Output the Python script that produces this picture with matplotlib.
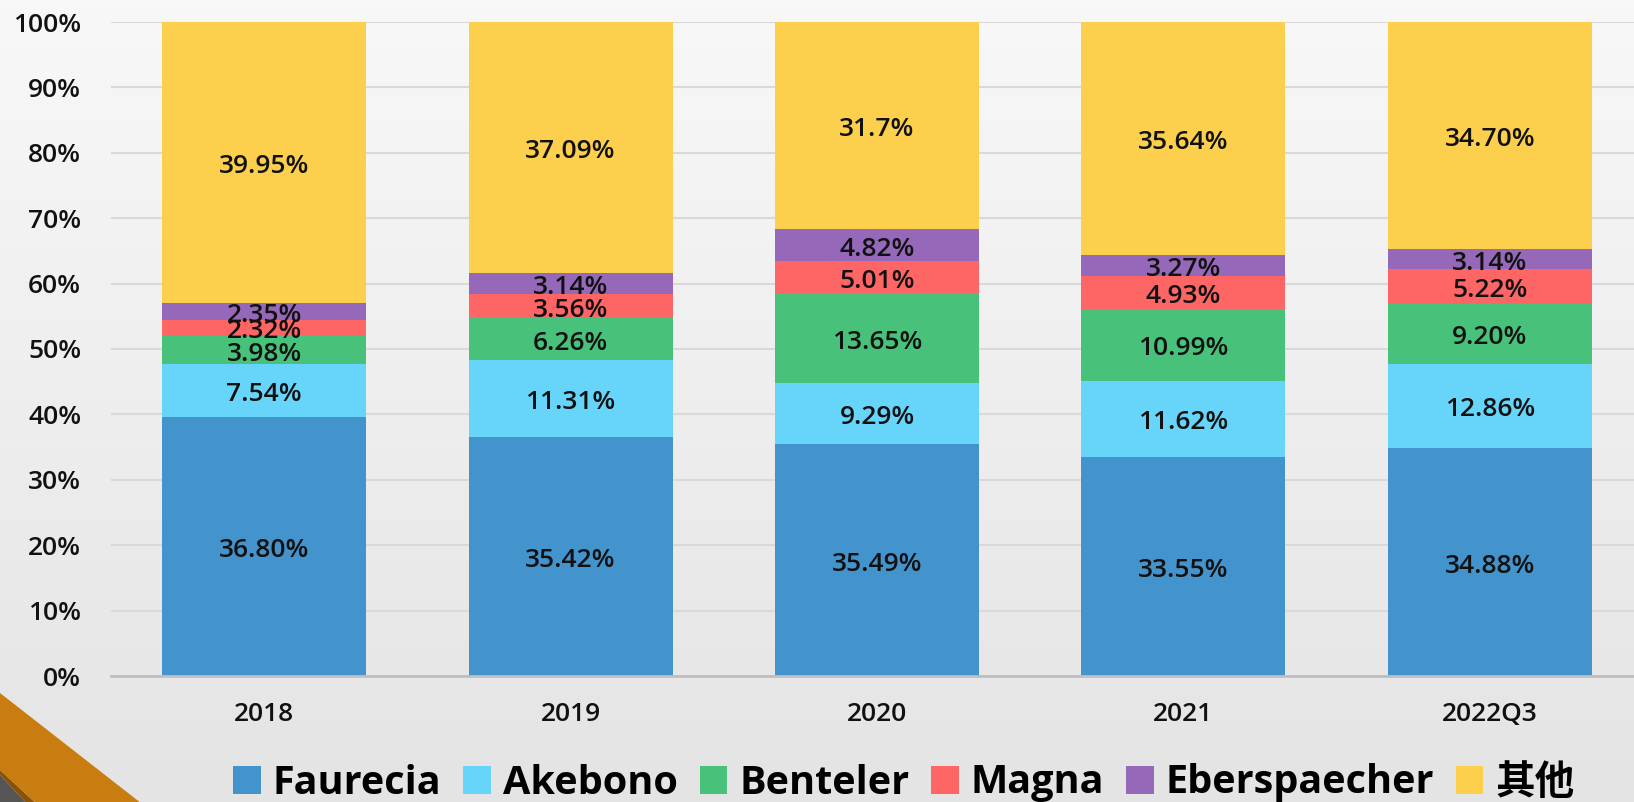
import numpy as np
import matplotlib
matplotlib.use("Agg")
import matplotlib.pyplot as plt
from matplotlib.patches import Polygon
from matplotlib.colors import LinearSegmentedColormap
from matplotlib.transforms import offset_copy

plt.rcParams['font.family'] = ['Open Sans', 'Noto Sans CJK TC', 'DejaVu Sans']

categories = ["2018", "2019", "2020", "2021", "2022Q3"]
series_names = ["Faurecia", "Akebono", "Benteler", "Magna", "Eberspaecher", "其他"]
faurecia = ["36.80", "35.42", "35.49", "33.55", "34.88"]
akebono = ["7.54", "11.31", "9.29", "11.62", "12.86"]
benteler = ["3.98", "6.26", "13.65", "10.99", "9.20"]
magna = ["2.32", "3.56", "5.01", "4.93", "5.22"]
eberspaecher = ["2.35", "3.14", "4.82", "3.27", "3.14"]
others = ["39.95", "37.09", "31.7", "35.64", "34.70"]
y_ticks = [0, 10, 20, 30, 40, 50, 60, 70, 80, 90, 100]

colors = ["#4393CC", "#67D4FA", "#48C27A", "#FE6565", "#9568B9", "#FCCF4D"]

series = [faurecia, akebono, benteler, magna, eberspaecher, others]
vals = np.array([[float(v) for v in s] for s in series])
totals = vals.sum(axis=0)
shares = vals / totals * 100

W, H = 1634, 802
fig = plt.figure(figsize=(W / 100, H / 100), dpi=100)

# background gradient
bg = fig.add_axes([0, 0, 1, 1], zorder=-10)
grad = np.linspace(0, 1, 256).reshape(-1, 1)
cmap = LinearSegmentedColormap.from_list("bg", ["#F8F8F8", "#E4E4E4"])
bg.imshow(grad, aspect="auto", cmap=cmap, extent=[0, W, H, 0])
bg.set_xlim(0, W)
bg.set_ylim(H, 0)
bg.axis("off")
# corner decoration
bg.add_patch(Polygon([[0, H + 5], [0, 775], [30, H + 5]], closed=True, color="#555555", lw=0))
bg.add_patch(Polygon([[0, 775], [0, 770], [40, H + 5], [30, H + 5]], closed=True, color="#8A5208", lw=0))
bg.add_patch(Polygon([[0, 770], [0, 693], [146, H + 5], [40, H + 5]], closed=True, color="#C97C10", lw=0))

ax = fig.add_axes([111 / W, 1 - 676 / H, 1532 / W, 654 / H])
ax.patch.set_alpha(0)
label_tr = offset_copy(ax.transData, fig=fig, x=0, y=-3, units="points")
x = np.arange(len(categories))
bottom = np.zeros(len(categories))
for i, name in enumerate(series_names):
    ax.bar(x, shares[i], bottom=bottom, width=0.666, color=colors[i], label=name, zorder=3)
    for j in range(len(categories)):
        ax.text(x[j], bottom[j] + shares[i][j] / 2, series[i][j] + "%",
                ha="center", va="center", fontsize=19, color="#111111",
                fontweight="semibold", zorder=5, transform=label_tr)
    bottom += shares[i]

ax.set_xlim(-0.5, len(categories) - 0.5)
ax.set_ylim(0, 100)
ax.set_yticks(y_ticks)
ax.set_yticklabels([f"{t}%" for t in y_ticks], fontsize=19, fontweight="semibold")
ax.set_xticks(x)
ax.set_xticklabels(categories, fontsize=19, fontweight="semibold")
ax.tick_params(axis="both", length=0, colors="#111111")
ax.tick_params(axis="y", pad=21.5)
ax.tick_params(axis="x", pad=19)
ax.yaxis.grid(True, color="#D9D9D9", linewidth=1.5, zorder=0)
ax.set_axisbelow(True)
for s in ["top", "right", "left"]:
    ax.spines[s].set_visible(False)
ax.spines["bottom"].set_color("#BFBFBF")
ax.spines["bottom"].set_linewidth(2)
ax.spines["bottom"].set_zorder(4)

leg = fig.legend(loc="center", bbox_to_anchor=(904 / W, 1 - 783 / H), ncol=6,
                 frameon=False, prop={"size": 28.5, "weight": "bold"},
                 handlelength=0.7, handleheight=0.7, handletextpad=0.3,
                 columnspacing=0.55)

fig.savefig("out.png", dpi=100)
